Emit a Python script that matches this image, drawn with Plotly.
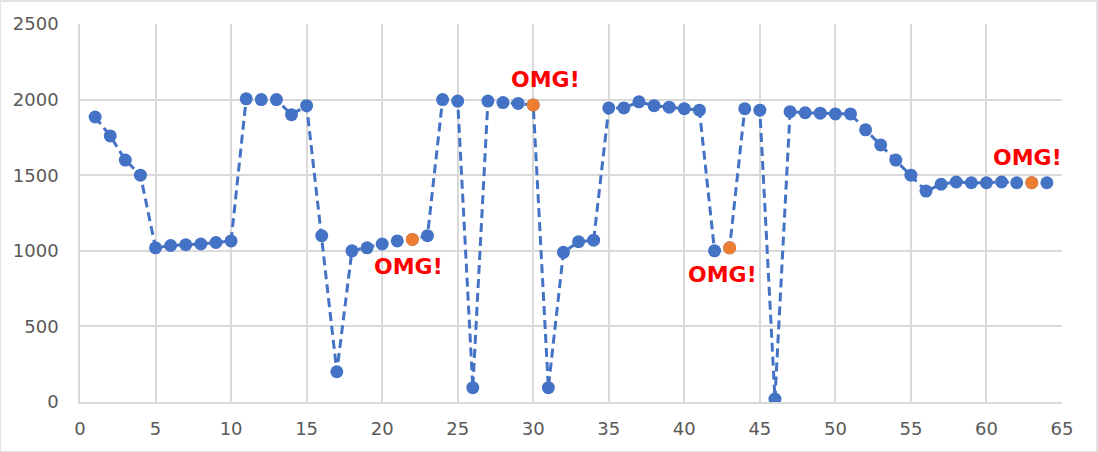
import plotly.graph_objects as go

x_vals = list(range(1, 65))
y_vals = [1885, 1760, 1600, 1500, 1020, 1035, 1040, 1045, 1055, 1065,
          2005, 2000, 2000, 1900, 1960, 1100, 200, 1000, 1020, 1045,
          1065, 1075, 1100, 2000, 1990, 95, 1990, 1980, 1975, 1965,
          95, 990, 1060, 1070, 1945, 1945, 1985, 1960, 1950, 1940,
          1930, 1000, 1020, 1940, 1930, 20, 1920, 1913, 1910, 1905,
          1905, 1800, 1700, 1600, 1500, 1395, 1440, 1455, 1450, 1450,
          1455, 1450, 1450, 1450]
highlight_x = [22, 30, 43, 63]
label_text = "OMG!"
label_pos = ["below", "above", "below", "above"]
label_xshift = [-4, 12, -7, -4]

highlight_y = [y_vals[x_vals.index(h)] for h in highlight_x]

fig = go.Figure()
fig.add_trace(go.Scatter(
    x=x_vals, y=y_vals, mode="lines+markers",
    line=dict(color="#4472C4", width=3, dash="9px,5px"),
    marker=dict(color="#4472C4", size=13),
    showlegend=False, hoverinfo="skip"))
fig.add_trace(go.Scatter(
    x=highlight_x, y=highlight_y, mode="markers",
    marker=dict(color="#ED7D31", size=13),
    showlegend=False, hoverinfo="skip"))

for hx, hy, pos, xs in zip(highlight_x, highlight_y, label_pos, label_xshift):
    fig.add_annotation(
        x=hx, y=hy, text="<b>" + label_text + "</b>", showarrow=False,
        xshift=xs, yshift=(25 if pos == "above" else -27),
        font=dict(family="DejaVu Sans", size=22, color="#FF0000", weight=700))

fig.add_shape(type="rect", xref="paper", yref="paper",
              x0=-80/982, x1=1097/982 - 80/982, y0=-50/378, y1=1 + 23/378,
              line=dict(color="#D9D9D9", width=1.5), layer="below")

axis_font = dict(family="DejaVu Sans", size=18, color="#595959")
fig.update_xaxes(range=[0, 65], dtick=5, tick0=0, showgrid=True,
                 gridcolor="#D9D9D9", gridwidth=1.5, zeroline=False,
                 showline=True, linecolor="#D9D9D9", linewidth=1.5, mirror=False,
                 tickfont=axis_font, ticks="outside", ticklen=10,
                 tickcolor="rgba(0,0,0,0)")
fig.update_yaxes(range=[0, 2500], dtick=500, tick0=0, showgrid=True,
                 gridcolor="#D9D9D9", gridwidth=1.5, zeroline=False,
                 showline=True, linecolor="#D9D9D9", linewidth=1.5,
                 tickfont=axis_font, ticks="outside", ticklen=16,
                 tickcolor="rgba(0,0,0,0)")
fig.update_layout(
    width=1098, height=452,
    margin=dict(l=80, r=36, t=24, b=50),
    paper_bgcolor="white", plot_bgcolor="white",
    showlegend=False)

fig.write_html("out.html")
